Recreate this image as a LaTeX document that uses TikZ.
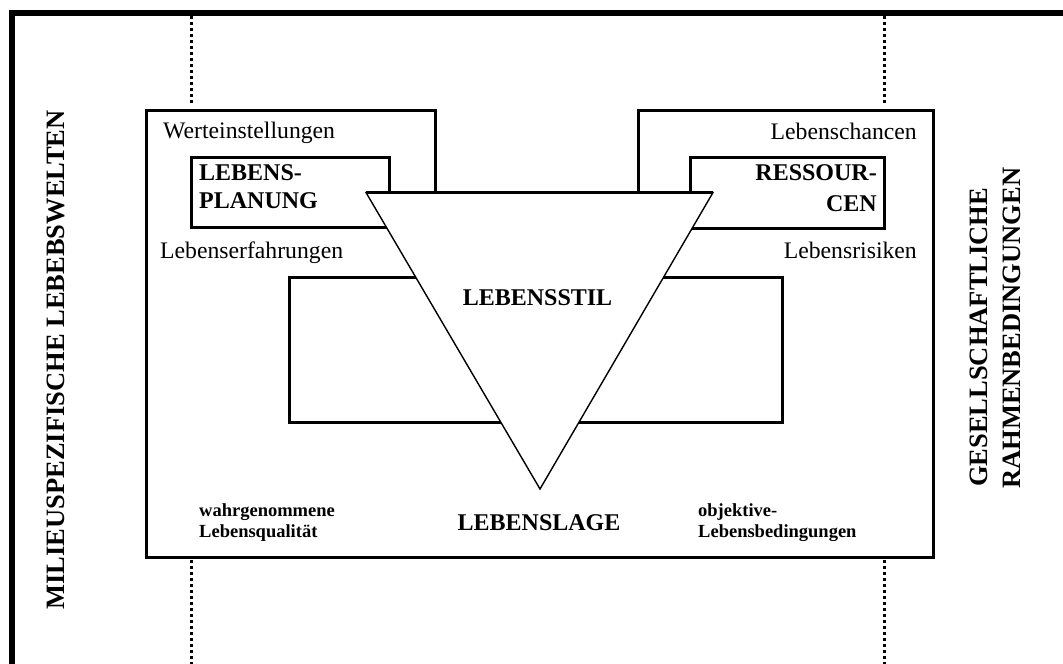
\documentclass[tikz,border=0pt]{standalone}
\usepackage{fontspec}
\setmainfont{Liberation Serif}
\begin{document}
\begin{tikzpicture}[x=1pt,y=-1pt,
  boxline/.style={line width=3pt, line join=miter},
  thinline/.style={line width=1.4pt, line join=miter},
  dotline/.style={line width=3pt, dash pattern=on 3pt off 3pt},
  framebox/.style={draw, boxline, fill=white, inner sep=0pt, outer sep=0pt},
  reg/.style={font=\fontsize{23.7}{28}\selectfont, inner sep=0pt},
  bigb/.style={font=\fontsize{24}{28}\selectfont\bfseries, inner sep=0pt},
  smallb/.style={font=\fontsize{18.5}{21.5}\selectfont\bfseries, inner sep=0pt},
  vert/.style={font=\fontsize{26.5}{30}\selectfont\bfseries, inner sep=0pt, rotate=90}]
\useasboundingbox (0,0) rectangle (1063,664);
\clip (0,0) rectangle (1063,664);
% outer frame
\draw[line width=6pt, line join=miter] (11.5,700) -- (11.5,13) -- (1100,13);
% dotted guide lines
\coordinate (d1a) at (191.5,16);  \coordinate (d1b) at (191.5,104);
\coordinate (d2a) at (191.5,560); \coordinate (d2b) at (191.5,664);
\coordinate (d3a) at (884,16);    \coordinate (d3b) at (884,104);
\coordinate (d4a) at (884,560);   \coordinate (d4b) at (884,664);
\draw[dotline] (d1a) -- (d1b);
\draw[dotline] (d2a) -- (d2b);
\draw[dotline] (d3a) -- (d3b);
\draw[dotline] (d4a) -- (d4b);
% big box with notch
\draw[boxline] (146,110.5) -- (435,110.5) -- (435,192.5) -- (638,192.5) -- (638,110.5)
  -- (933,110.5) -- (933,557) -- (146,557) -- cycle;
% lower rectangle
\draw[boxline] (289,277) rectangle (782,422);
% small boxes
\node[framebox, minimum width=198pt, minimum height=70.5pt] (planbox) at (290,192.25) {};
\node[framebox, minimum width=194pt, minimum height=71pt] (resbox) at (787,192.5) {};
% triangle
\draw[thinline, fill=white] (366,192.5) -- (713,192.5) -- (540,489) -- cycle;
\draw[boxline] (366,192.5) -- (713,192.5);
% texts
\node[reg, anchor=base west] (we) at (163,138) {Werteinstellungen};
\node[reg, anchor=base east] (lc) at (917,139) {Lebenschancen};
\node[reg, anchor=base west] (le) at (160,258) {Lebenserfahrungen};
\node[reg, anchor=base east] (lr) at (917,258) {Lebensrisiken};
\node[bigb, anchor=base west] (lp1) at (199,180) {LEBENS-};
\node[bigb, anchor=base west] (lp2) at (199,208) {PLANUNG};
\node[bigb, anchor=base east] (rs1) at (877,180) {RESSOUR-};
\node[bigb, anchor=base east] (rs2) at (877,211) {CEN};
\node[bigb, anchor=base] (stil) at (537.5,305) {LEBENSSTIL};
\node[bigb, anchor=base] (lage) at (539,530) {LEBENSLAGE};
\node[smallb, anchor=base west] (wq1) at (199,516) {wahrgenommene};
\node[smallb, anchor=base west] (wq2) at (199,537) {Lebensqualität};
\node[smallb, anchor=base west] (ob1) at (698,516) {objektive-};
\node[smallb, anchor=base west] (ob2) at (698,537) {Lebensbedingungen};
\node[vert, anchor=center] (milieu) at (56,360) {MILIEUSPEZIFISCHE LEBEBSWELTEN};
\node[vert, anchor=base west] (ges1) at (987.5,487) {GESELLSCHAFTLICHE};
\node[vert, anchor=base west] (ges2) at (1020,489) {RAHMENBEDINGUNGEN};
\end{tikzpicture}
\end{document}
